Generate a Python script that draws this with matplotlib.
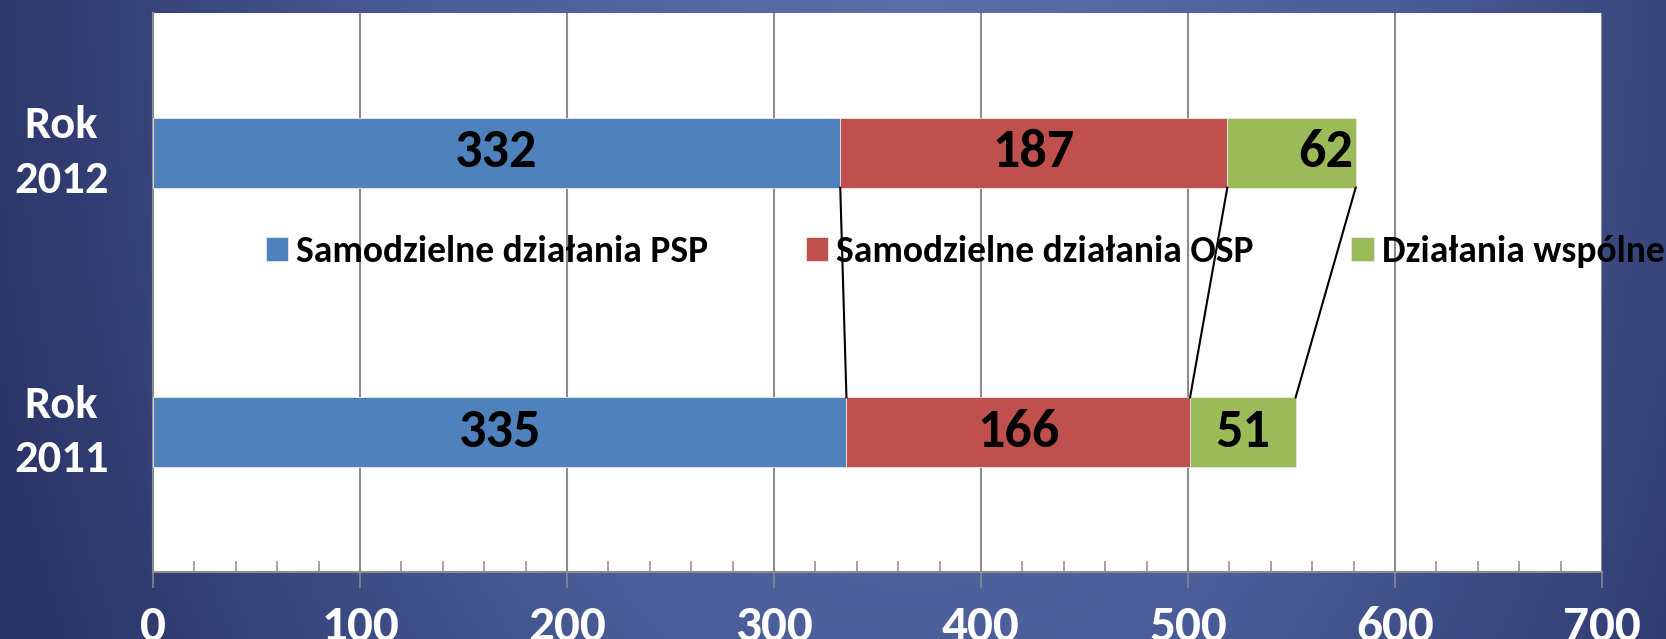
import numpy as np
import matplotlib
matplotlib.use("Agg")
import matplotlib.pyplot as plt
from matplotlib import font_manager
from matplotlib.colors import LinearSegmentedColormap
from matplotlib.ticker import MultipleLocator
from matplotlib.transforms import ScaledTranslation

# dane z wykresu
lata = ['Rok\n2011', 'Rok\n2012']
serie = ['Samodzielne działania PSP', 'Samodzielne działania OSP', 'Działania wspólne']
psp = [335, 332]
osp = [166, 187]
wspolne = [51, 62]
kolory = ['#4f81bd', '#c0504d', '#9bbb59']

# czcionka podobna do Calibri, jeśli jest zainstalowana
nazwy = {f.name for f in font_manager.fontManager.ttflist}
fam = next((n for n in ['Carlito', 'Fira Sans Condensed', 'Lato'] if n in nazwy), 'DejaVu Sans')
plt.rcParams['font.family'] = [fam, 'DejaVu Sans']
plt.rcParams['font.weight'] = 'bold'

fig = plt.figure(figsize=(16.66, 6.39), dpi=100)

# tło z gradientem
tlo = fig.add_axes([0, 0, 1, 1], zorder=-10)
yy, xx = np.mgrid[0:1:300j, 0:1:800j]
r = np.sqrt(((xx - 0.55) / 0.55) ** 2 + (yy * 0.45) ** 2)
cmap = LinearSegmentedColormap.from_list('tlo', ['#5b70aa', '#4a5d98', '#2a3467'])
tlo.imshow(r, cmap=cmap, extent=[0, 1, 0, 1], aspect='auto', origin='upper', vmin=0, vmax=1.05)
tlo.axis('off')

ax = fig.add_axes([153 / 1666, 67 / 639, 1449 / 1666, 559 / 639])
ax.set_facecolor('white')

y = np.arange(len(lata))
h = 0.25
lewo = np.zeros(len(lata))
for i, (wartosci, kolor, nazwa) in enumerate(zip([psp, osp, wspolne], kolory, serie)):
    slupki = ax.barh(y, wartosci, h, left=lewo, color=kolor, edgecolor='#e8e8e8',
                     linewidth=0.6, label=nazwa, zorder=3)
    teksty = [str(v) for v in wartosci]
    if i == 2:
        teksty[1] = ''  # "62" w oryginale dosunięte do końca słupka
    ax.bar_label(slupki, labels=teksty, label_type='center',
                 fontsize=39, fontweight='bold', color='black')
    lewo = lewo + np.array(wartosci)

ax.annotate(str(wspolne[1]), xy=(lewo[1], y[1]), xytext=(-2, 0), textcoords='offset points',
            ha='right', va='center', fontsize=39, fontweight='bold', color='black', zorder=5)

# linie serii między słupkami
skum = np.cumsum([psp, osp, wspolne], axis=0)
for k in range(len(serie)):
    ax.plot([skum[k][1], skum[k][0]], [y[1] - h / 2, y[0] + h / 2],
            color='black', lw=1.5, zorder=4)

ax.set_xlim(0, 700)
ax.set_ylim(-0.5, 1.5)
ax.xaxis.set_major_locator(MultipleLocator(100))
ax.xaxis.set_minor_locator(MultipleLocator(20))
ax.grid(axis='x', which='major', color='#8c8c8c', lw=1.5, zorder=0)
ax.set_axisbelow(True)

szary = '#8c8c8c'
ax.tick_params(axis='x', which='major', direction='out', length=11.5, width=1.1,
               color=szary, labelsize=37, labelcolor='white', pad=12)
ax.tick_params(axis='x', which='minor', direction='in', length=8, width=1.1, color=szary)
ax.set_yticks(y, lata)
ax.tick_params(axis='y', length=0, pad=66, labelsize=33.5, labelcolor='white')
przesun = ScaledTranslation(0, 8 / 72, fig.dpi_scale_trans)
for lbl in ax.get_yticklabels():
    lbl.set_ha('center')
    lbl.set_linespacing(1.45)
    lbl.set_transform(lbl.get_transform() + przesun)
for lbl in ax.get_xticklabels():
    lbl.set_fontweight('bold')

ax.spines['top'].set_visible(False)
ax.spines['right'].set_visible(False)
for s in ['left', 'bottom']:
    ax.spines[s].set_color(szary)
    ax.spines[s].set_linewidth(1.5)

fig.legend(loc='center left', bbox_to_anchor=(266 / 1666, 1 - 252 / 639), ncol=3,
           frameon=False, prop={'size': 27, 'weight': 'bold'},
           handlelength=0.59, handleheight=0.59, handletextpad=0.22,
           columnspacing=2.6, borderpad=0, borderaxespad=0)

fig.savefig('out.png', dpi=100)
